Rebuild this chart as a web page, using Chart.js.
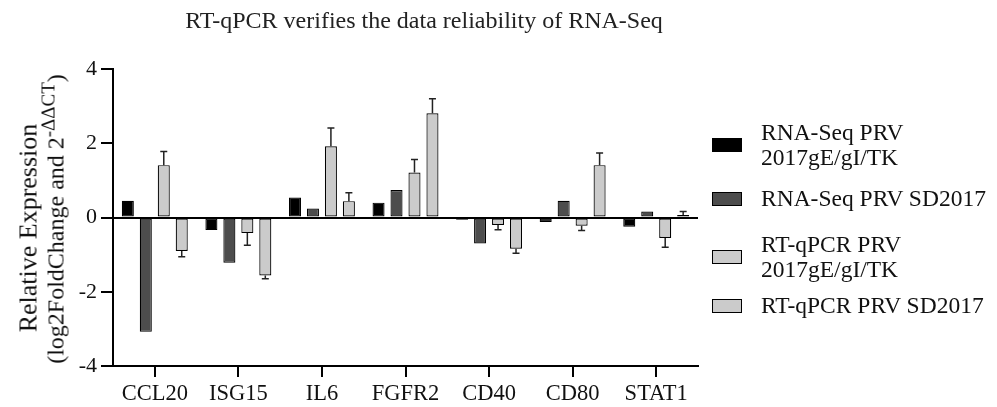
<!DOCTYPE html>
<html>
<head>
<meta charset="utf-8">
<script src="https://cdn.jsdelivr.net/npm/chart.js@4"></script>
<style>
    body { margin: 0; background: #fff; }
    #wrap { position: relative; width: 997px; height: 407px; font-family: "Liberation Serif", "Times New Roman", serif; color: #111; }
    #chart { position: absolute; left: 0; top: 0; }
    #title { position: absolute; left: 424px; top: 20px; transform: translate(-50%, -50%); font-size: 24px; white-space: nowrap; color: #222; }
    #ytitle {
        position: absolute; left: 43px; top: 219px; width: 360px;
        transform: translate(-50%, -50%) rotate(-90deg);
        text-align: center; line-height: 25px; white-space: nowrap;
    }
    #ytitle .l1 { font-size: 26px; position: relative; left: -9px; }
    #ytitle .l2 { font-size: 24px; }
    #ytitle sup { font-size: 19px; vertical-align: 9px; line-height: 0; }
    #legend { position: absolute; left: 712px; top: 120px; font-size: 23.5px; line-height: 25px; }
    .item { display: flex; align-items: center; margin-bottom: 16px; }
    .item:nth-child(2) { margin-bottom: 21px; }
    .item:nth-child(3) { margin-bottom: 11px; }
    .box { width: 28px; height: 12px; border: 1.5px solid #000; margin-right: 19px; flex: none; }
</style>
</head>
<body>
<div id="wrap">
    <canvas id="chart" width="997" height="407"></canvas>
    <div id="title">RT-qPCR verifies the data reliability of RNA-Seq</div>
    <div id="ytitle"><span class="l1">Relative Expression</span><br><span class="l2">(log2FoldChange and 2<sup>-ΔΔCT</sup>)</span></div>
    <div id="legend"></div>
</div>
<script>
// --- DATA ---
const genes = ['CCL20', 'ISG15', 'IL6', 'FGFR2', 'CD40', 'CD80', 'STAT1'];
const seriesNames = [
    ['RNA-Seq PRV', '2017gE/gI/TK'],
    ['RNA-Seq PRV SD2017'],
    ['RT-qPCR PRV', '2017gE/gI/TK'],
    ['RT-qPCR PRV SD2017']
];
const rnaSeqGEI = [0.45, -0.34, 0.54, 0.40, -0.06, -0.12, -0.25];
const rnaSeqSD = [-3.08, -1.22, 0.24, 0.74, -0.70, 0.45, 0.16];
const qpcrGEI = [1.41, -0.42, 1.92, 1.21, -0.20, -0.22, -0.55];
const qpcrGEIErr = [0.37, 0.33, 0.49, 0.35, 0.13, 0.13, 0.25];
const qpcrSD = [-0.90, -1.56, 0.44, 2.81, -0.84, 1.41, 0.07];
const qpcrSDErr = [0.16, 0.09, 0.23, 0.39, 0.12, 0.33, 0.09];
const yTicks = [-4, -2, 0, 2, 4];

const colors = ['#000000', '#4d4d4d', '#cbcbcb', '#cbcbcb'];
const values = [rnaSeqGEI, rnaSeqSD, qpcrGEI, qpcrSD];
const errors = [null, null, qpcrGEIErr, qpcrSDErr];

// --- LEGEND (html, wrapped labels) ---
const legend = document.getElementById('legend');
seriesNames.forEach((lines, i) => {
    const item = document.createElement('div');
    item.className = 'item';
    item.innerHTML = `<span class="box" style="background:${colors[i]}"></span><span>${lines.join('<br>')}</span>`;
    legend.appendChild(item);
});

// one-sided error bars, drawn away from zero
const errorBars = {
    id: 'errorBars',
    afterDatasetsDraw(chart) {
        const ctx = chart.ctx;
        const y = chart.scales.y;
        ctx.save();
        ctx.strokeStyle = '#222';
        ctx.lineWidth = 1.5;
        chart.data.datasets.forEach((ds, di) => {
            if (!ds.errors) return;
            chart.getDatasetMeta(di).data.forEach((bar, i) => {
                const v = ds.data[i];
                const tip = v >= 0 ? v + ds.errors[i] : v - ds.errors[i];
                const y0 = y.getPixelForValue(v);
                const y1 = y.getPixelForValue(tip);
                ctx.beginPath();
                ctx.moveTo(bar.x, y0);
                ctx.lineTo(bar.x, y1);
                ctx.moveTo(bar.x - 3.5, y1);
                ctx.lineTo(bar.x + 3.5, y1);
                ctx.stroke();
            });
        });
        ctx.restore();
    }
};

new Chart(document.getElementById('chart').getContext('2d'), {
    type: 'bar',
    data: {
        labels: genes,
        datasets: values.map((vals, i) => ({
            label: seriesNames[i].join(' '),
            data: vals,
            errors: errors[i],
            backgroundColor: colors[i],
            borderColor: '#000',
            borderWidth: 1.2,
            borderSkipped: false,
            categoryPercentage: 0.86,
            barPercentage: 0.67
        }))
    },
    options: {
        responsive: false,
        animation: false,
        layout: { padding: { left: 60, right: 299, top: 69, bottom: 0 } },
        plugins: {
            legend: { display: false },
            title: { display: false },
            tooltip: { enabled: false }
        },
        scales: {
            x: {
                grid: { offset: false, drawOnChartArea: false, color: '#000', lineWidth: 2, tickLength: 11 },
                border: { color: '#000', width: 2 },
                ticks: { color: '#111', padding: 4, font: { family: 'Liberation Serif', size: 22.5 } },
                afterFit: s => { s.height = 41; }
            },
            y: {
                min: -4, max: 4,
                afterBuildTicks: s => { s.ticks = yTicks.map(v => ({ value: v })); },
                grid: {
                    color: c => c.tick && c.tick.value === 0 ? '#000' : 'rgba(0,0,0,0)',
                    tickColor: '#000', lineWidth: 2, tickLength: 12
                },
                border: { color: '#000', width: 2 },
                ticks: { color: '#111', padding: 4, font: { family: 'Liberation Serif', size: 22 } },
                afterFit: s => { s.width = 53; }
            }
        }
    },
    plugins: [errorBars]
});
</script>
</body>
</html>
